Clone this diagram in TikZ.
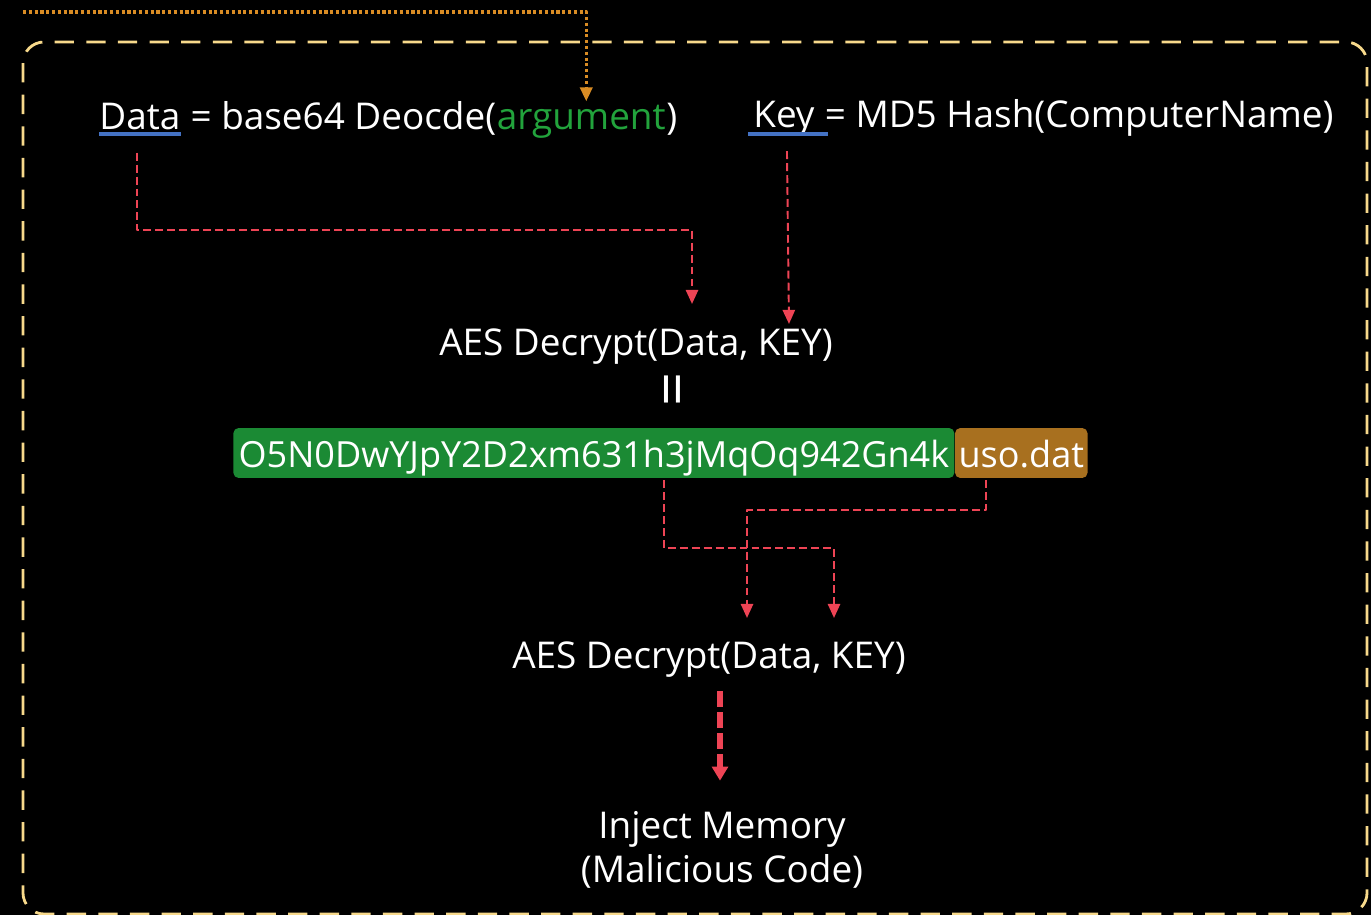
\documentclass[tikz,border=0pt]{standalone}
\usepackage{fontspec}
\setmainfont{Open Sans}
\usetikzlibrary{arrows.meta,calc}
\definecolor{frameyel}{HTML}{F7D98B}
\definecolor{argorange}{HTML}{D98C24}
\definecolor{linkred}{HTML}{EE4455}
\definecolor{ulblue}{HTML}{4472C4}
\definecolor{txtgreen}{HTML}{22A33C}
\definecolor{boxgreen}{HTML}{1B8A34}
\definecolor{boxbrown}{HTML}{A8701F}
\begin{document}
\begin{tikzpicture}[x=0.02cm, y=-0.02cm, font=\fontsize{21}{25}\selectfont, line join=round,
  >={Triangle[length=8pt,width=7pt]},
  txt/.style={text=white, inner sep=0pt, anchor=base west},
  link/.style={draw=linkred, line width=1.1pt, dash pattern=on 4.5pt off 2.3pt, ->},
  uline/.style={draw=ulblue, line width=2pt},
  strbox/.style={text=white, rounded corners=3pt, inner ysep=0pt, minimum height=1cm,
    text height=17pt, text depth=0pt, anchor=west, font=\fontsize{20.5}{25}\selectfont}]
\fill[black] (0,0) rectangle (1371,915);
\useasboundingbox (0,0) rectangle (1371,915);
% outer frame
\draw[frameyel, line width=1.6pt, dash pattern=on 11pt off 7pt, rounded corners=12pt] (23,42) rectangle (1367,914);
% first line: Data = base64 Deocde(argument)
\node[txt] (dataw) at (99,130) {Data};
\node[txt] (datarest) at (dataw.base east) {\ = base64 Deocde(};
\node[txt, text=txtgreen] (arg) at (datarest.base east) {argument};
\node[txt] (dataend) at (arg.base east) {)};
\draw[uline] ($(dataw.base west)+(0,4)$) -- ($(dataw.base east)+(0,4)$);
% Key = MD5 Hash(ComputerName)
\node[txt] (keyw) at (753,128) {Key};
\node[txt] (keyrest) at (keyw.base east) {\ = MD5 Hash(ComputerName)};
\draw[uline] ($(keyw.base west)+(-5,6)$) -- ($(keyw.base east)+(13,6)$);
% argument comes in from outside
\coordinate (src) at (23,12);
\draw[argorange, line width=1.8pt, dash pattern=on 1.8pt off 1.5pt, ->] (src) -| ($(arg.north)+(5,-4)$);
% first decrypt
\node[text=white, inner sep=0pt, anchor=base] (dec1) at (636,355) {AES Decrypt(Data, KEY)};
\draw[link] ($(dataw.south)+(-3,22)$) |- (692,230) -- ($(dec1.north)+(56,-24)$);
\draw[link] ($(keyw.south)+(3,14)$) -- ($(dec1.north)+(153,-4)$);
\node[text=white, inner sep=0pt, rotate=90, font=\fontsize{34}{34}\selectfont] (eq) at (679,389) {=};
% decrypted string
\node[strbox, fill=boxgreen, inner xsep=3pt] (blob) at (233,453) {O5N0DwYJpY2D2xm631h3jMqOq942Gn4k};
\node[strbox, fill=boxbrown, inner xsep=2pt] (ext) at (blob.east) {uso.dat};
% second decrypt
\node[text=white, inner sep=0pt, anchor=base] (dec2) at (709,668) {AES Decrypt(Data, KEY)};
\draw[link] ($(blob.south)+(70,2)$) |- (834,548) -- ($(dec2.north)+(125,-23)$);
\draw[link] ($(ext.south)+(-35,2)$) |- (747,510) -- ($(dec2.north)+(38,-23)$);
% injection
\node[text=white, inner sep=0pt, align=center, anchor=base] (inject) at (722,882) {Inject Memory\\(Malicious Code)};
\draw[draw=linkred, line width=3.4pt, dash pattern=on 9pt off 3pt,
  -{Triangle[length=8pt,width=9pt]}] ($(dec2.south)+(11,14)$) -- ($(inject.north)+(-2,-30)$);
\end{tikzpicture}
\end{document}
